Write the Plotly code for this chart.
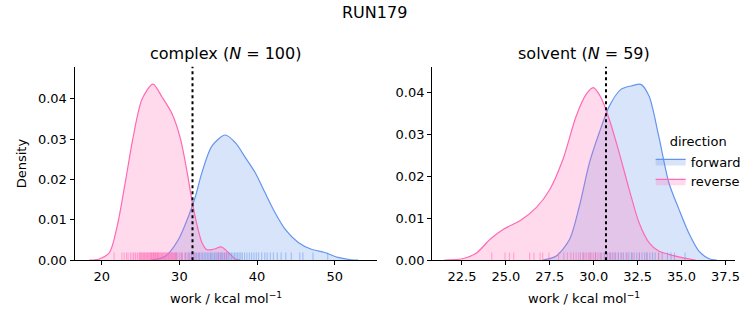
import plotly.graph_objects as go

# ---------------- data ----------------
complex_rev_x = [18.4, 19.7, 21.0, 22.0, 23.1, 24.0, 25.2, 26.6, 27.8, 29.1, 30.15, 31.0, 31.6, 32.3, 32.9, 33.55, 34.4, 35.4, 36.3, 37.2, 37.8]
complex_rev_y = [0, 0.0003, 0.0019, 0.0085, 0.020, 0.030, 0.0399, 0.0436, 0.0403, 0.0361, 0.030, 0.0218, 0.015, 0.0085, 0.0044, 0.0026, 0.0027, 0.0033, 0.0019, 0.0003, 0]
complex_fwd_x = [26.3, 28.2, 29.9, 31.2, 32.1, 32.9, 34.2, 35.9, 37.2, 38.5, 39.75, 41.0, 42.3, 43.6, 45.3, 47.0, 48.7, 50.4, 52.1, 53.0]
complex_fwd_y = [0, 0.001, 0.0052, 0.011, 0.016, 0.0217, 0.0283, 0.031, 0.0291, 0.0254, 0.0217, 0.0168, 0.0118, 0.0077, 0.0044, 0.0027, 0.0019, 0.0007, 0.0001, 0]

solvent_rev_x = [21.5, 22.6, 23.35, 24.1, 24.86, 25.8, 26.74, 27.5, 28.25, 29.0, 29.57, 29.98, 30.42, 30.89, 31.45, 32.02, 32.58, 33.15, 33.7, 34.28, 35.04, 35.8]
solvent_rev_y = [0, 0.0004, 0.0018, 0.005, 0.0074, 0.0094, 0.0126, 0.0169, 0.0241, 0.0344, 0.0396, 0.0412, 0.0388, 0.0336, 0.0257, 0.0169, 0.009, 0.0042, 0.0022, 0.0014, 0.0006, 0]
solvent_fwd_x = [27.1, 27.87, 28.63, 29.19, 29.76, 30.32, 30.89, 31.55, 32.21, 32.68, 33.15, 33.7, 34.28, 34.85, 35.4, 35.98, 36.54, 37.0]
solvent_fwd_y = [0, 0.001, 0.005, 0.013, 0.0233, 0.0305, 0.0368, 0.0408, 0.0417, 0.042, 0.0392, 0.0297, 0.0185, 0.0122, 0.0066, 0.0022, 0.0004, 0]

complex_rev_rug = [21.6, 22.6, 22.9, 23.2, 23.4, 23.7, 23.9, 24.1, 24.3, 24.4, 24.6, 24.8, 24.9, 25.0, 25.1,
                   25.2, 25.3, 25.4, 25.5, 25.6, 25.7, 25.8, 25.9, 26.0, 26.1, 26.2, 26.3, 26.35, 26.4, 26.5,
                   26.6, 26.65, 26.7, 26.8, 26.9, 26.95, 27.0, 27.1, 27.2, 27.25, 27.3, 27.4, 27.5, 27.6, 27.7,
                   27.8, 27.9, 28.0, 28.1, 28.2, 28.3, 28.4, 28.5, 28.6, 28.7, 28.8, 28.9, 29.0, 29.1, 29.2,
                   29.3, 29.4, 29.5, 29.6, 29.8, 30.0, 30.2, 30.4, 30.7, 31.0, 31.3, 31.6, 32.0, 32.5, 35.0,
                   35.4, 35.8, 36.1]
complex_fwd_rug = [29.6, 30.3, 30.8, 31.2, 31.5, 31.8, 32.0, 32.2, 32.4, 32.6, 32.8, 33.0, 33.2, 33.4, 33.6,
                   33.8, 34.0, 34.1, 34.3, 34.5, 34.6, 34.8, 35.0, 35.1, 35.3, 35.5, 35.6, 35.8, 36.0, 36.1,
                   36.3, 36.5, 36.7, 36.9, 37.1, 37.3, 37.5, 37.7, 37.9, 38.1, 38.4, 38.7, 39.0, 39.3, 39.6,
                   39.9, 40.2, 40.6, 41.0, 41.3, 41.7, 42.1, 42.6, 43.1, 43.7, 44.4, 45.5, 45.9, 47.2, 49.1]
solvent_rev_rug = [24.2, 24.95, 25.2, 25.45, 26.36, 26.6, 26.95, 27.1, 27.45, 28.0, 28.3, 28.5, 28.7, 28.85,
                   29.0, 29.15, 29.25, 29.4, 29.5, 29.6, 29.7, 29.8, 29.9, 30.0, 30.1, 30.2, 30.3, 30.45, 30.6,
                   30.75, 30.9, 31.05, 31.2, 31.4, 31.6, 31.9, 32.2, 32.6, 33.0, 33.7]
solvent_fwd_rug = [29.4, 29.8, 30.1, 30.4, 30.6, 30.8, 30.95, 31.1, 31.25, 31.4, 31.55, 31.7, 31.85, 32.0,
                   32.15, 32.3, 32.45, 32.6, 32.75, 32.9, 33.05, 33.2, 33.35, 33.5, 33.7, 33.9, 34.2, 34.4,
                   34.6, 35.2]

complex_vline = 31.69
solvent_vline = 30.7

complex_xrange = [16.5, 55.5]
solvent_xrange = [20.8, 38.05]
complex_yrange = [0, 0.0479]
solvent_yrange = [0, 0.0462]

complex_xticks = [20, 30, 40, 50]
solvent_xticks = [22.5, 25.0, 27.5, 30.0, 32.5, 35.0, 37.5]
complex_yticks = [0.00, 0.01, 0.02, 0.03, 0.04]
solvent_yticks = [0.00, 0.01, 0.02, 0.03, 0.04]

titles = ["complex (<i>N</i> = 100)", "solvent (<i>N</i> = 59)"]
suptitle = "RUN179"
xlabel = "work / kcal mol<sup>−1</sup>"
ylabel = "Density"
directions = ["forward", "reverse"]

# ---------------- style ----------------
FWD = "rgb(100,149,237)"
REV = "rgb(255,105,180)"
FWD_FILL = "rgba(100,149,237,0.25)"
REV_FILL = "rgba(255,105,180,0.25)"
FWD_RUG = "rgba(100,149,237,0.55)"
REV_RUG = "rgba(255,105,180,0.55)"
FONT = "DejaVu Sans"

W, H = 753, 325
HE = 318.0  # effective drawn height observed in the render


def fy(px):
    return 1 - px / HE


xd1 = [75 / W, 380 / W]
xd2 = [435 / W, 740 / W]
yd = [fy(261), fy(67)]

fig = go.Figure()

panels = [
    ("x", "y", complex_fwd_x, complex_fwd_y, complex_rev_x, complex_rev_y, complex_fwd_rug, complex_rev_rug, True),
    ("x2", "y2", solvent_fwd_x, solvent_fwd_y, solvent_rev_x, solvent_rev_y, solvent_fwd_rug, solvent_rev_rug, False),
]

for xa, ya, fxs, fys, rxs, rys, frug, rrug, show in panels:
    for name, cx, cy, col, fill in [(directions[0], fxs, fys, FWD, FWD_FILL), (directions[1], rxs, rys, REV, REV_FILL)]:
        fig.add_trace(go.Scatter(
            x=cx, y=cy, xaxis=xa, yaxis=ya, mode="lines", name=name,
            line=dict(color=col, width=1.2, shape="spline", smoothing=0.8),
            fill="tozeroy", fillcolor=fill, showlegend=show, legendgroup=name,
        ))
    for rug, col in [(frug, FWD_RUG), (rrug, REV_RUG)]:
        fig.add_trace(go.Scatter(
            x=rug, y=[0] * len(rug), xaxis=xa, yaxis=ya, mode="markers",
            marker=dict(symbol="line-ns", size=11, line=dict(width=1, color=col)),
            showlegend=False, hoverinfo="x", cliponaxis=True,
        ))

for xr, yr, v in [("x", "y domain", complex_vline), ("x2", "y2 domain", solvent_vline)]:
    fig.add_shape(type="line", xref=xr, yref=yr, x0=v, x1=v, y0=0, y1=1,
                  line=dict(color="black", width=2, dash="dot"))

axis_common = dict(showline=True, linecolor="black", linewidth=1, ticks="outside", ticklen=4,
                   tickwidth=1, tickcolor="black", showgrid=False, zeroline=False,
                   tickfont=dict(family=FONT, size=13, color="black"))

fig.update_layout(
    width=W, height=H, margin=dict(l=0, r=0, t=0, b=0),
    paper_bgcolor="white", plot_bgcolor="white",
    font=dict(family=FONT, size=13, color="black"),
    xaxis=dict(domain=xd1, range=complex_xrange, tickvals=complex_xticks, anchor="y", **axis_common),
    yaxis=dict(domain=yd, range=complex_yrange, tickvals=complex_yticks, tickformat=".2f", anchor="x", **axis_common),
    xaxis2=dict(domain=xd2, range=solvent_xrange, tickvals=solvent_xticks, tickformat=".1f", anchor="y2", **axis_common),
    yaxis2=dict(domain=yd, range=solvent_yrange, tickvals=solvent_yticks, tickformat=".2f", anchor="x2", **axis_common),
    legend=dict(
        title=dict(text="direction", side="top center", font=dict(family=FONT, size=13)),
        x=655 / W, y=fy(130), xanchor="left", yanchor="top",
        bgcolor="rgba(0,0,0,0)", font=dict(family=FONT, size=13),
        itemwidth=30, tracegroupgap=0,
    ),
)

ann = [
    dict(text=suptitle, x=0.5, y=fy(13), font=dict(size=16)),
    dict(text=titles[0], x=(xd1[0] + xd1[1]) / 2, y=fy(54), font=dict(size=16)),
    dict(text=titles[1], x=(xd2[0] + xd2[1]) / 2, y=fy(54), font=dict(size=16)),
    dict(text=xlabel, x=(xd1[0] + xd1[1]) / 2, y=fy(299), font=dict(size=13)),
    dict(text=xlabel, x=(xd2[0] + xd2[1]) / 2, y=fy(299), font=dict(size=13)),
    dict(text=ylabel, x=22 / W, y=fy(164), font=dict(size=13), textangle=-90),
]
for a in ann:
    fig.add_annotation(xref="paper", yref="paper", showarrow=False, xanchor="center", yanchor="middle",
                       font_family=FONT, **{k: v for k, v in a.items()})

fig.write_html("out.html")
